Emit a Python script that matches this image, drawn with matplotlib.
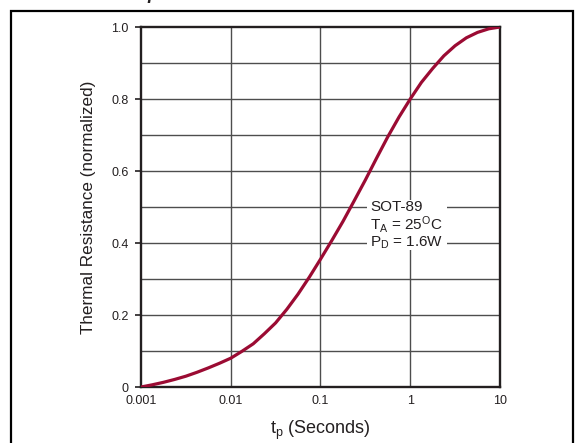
import numpy as np
import matplotlib
matplotlib.use("Agg")
import matplotlib.pyplot as plt
from matplotlib.patches import Rectangle

plt.rcParams["font.family"] = ["Liberation Sans", "DejaVu Sans"]

# Curve (eighth-decade steps): pulse time (s) vs normalized thermal resistance
pulse_time = [0.001, 0.00133, 0.00178, 0.00237, 0.00316, 0.00422, 0.00562, 0.0075,
              0.01, 0.0133, 0.0178, 0.0237, 0.0316, 0.0422, 0.0562, 0.075,
              0.1, 0.133, 0.178, 0.237, 0.316, 0.422, 0.562, 0.75,
              1.0, 1.33, 1.78, 2.37, 3.16, 4.22, 5.62, 7.5, 10.0]
thermal_res = [0.0, 0.006, 0.013, 0.021, 0.030, 0.041, 0.053, 0.066,
               0.080, 0.099, 0.120, 0.148, 0.178, 0.216, 0.258, 0.305,
               0.355, 0.406, 0.460, 0.517, 0.575, 0.636, 0.695, 0.750,
               0.800, 0.846, 0.885, 0.920, 0.948, 0.970, 0.985, 0.995, 1.0]

x_ticks = [0.001, 0.01, 0.1, 1, 10]
x_tick_labels = ["0.001", "0.01", "0.1", "1", "10"]
y_ticks = [0, 0.2, 0.4, 0.6, 0.8, 1.0]
y_tick_labels = ["0", "0.2", "0.4", "0.6", "0.8", "1.0"]

curve_color = "#9b0b33"
grid_color = "#4d4d4d"
dark = "#231f20"

fig = plt.figure(figsize=(5.78, 4.43), dpi=100)
ax = fig.add_axes([141 / 578, 56 / 443, 359 / 578, 360 / 443])

ax.set_xscale("log")
ax.set_xlim(0.001, 10)
ax.set_ylim(0, 1.0)

# grid: decades on x, every 0.1 on y
for xv in [0.01, 0.1, 1]:
    ax.axvline(xv, color=grid_color, lw=1.0, zorder=1)
for yv in np.arange(1, 10) / 10:
    ax.axhline(yv, color=grid_color, lw=1.0, zorder=1)

ax.plot(pulse_time, thermal_res, color=curve_color, lw=2.3, zorder=3,
        solid_capstyle="round", solid_joinstyle="round")

ax.set_xticks(x_ticks)
ax.set_xticklabels(x_tick_labels)
ax.xaxis.set_minor_locator(matplotlib.ticker.NullLocator())
ax.set_yticks(y_ticks)
ax.set_yticklabels(y_tick_labels)
ax.tick_params(axis="x", length=0, pad=6, labelsize=9, colors=dark)
ax.tick_params(axis="y", length=4, width=1.2, pad=5, labelsize=9, colors=dark)
for sp in ax.spines.values():
    sp.set_color(dark)
    sp.set_linewidth(1.7)

ax.set_xlabel(r"$\mathregular{t_p}$ (Seconds)", fontsize=13, color=dark, labelpad=8)
ax.set_ylabel("Thermal Resistance (normalized)", fontsize=12.3, color=dark, labelpad=11)

# annotation box
ax.add_patch(Rectangle((0.630, 0.38), 0.222, 0.14, transform=ax.transAxes,
                       facecolor="white", edgecolor="none", zorder=2))
ax.text(0.638, 0.52, "SOT-89\n" + r"$\mathregular{T_A}$ = 25$\mathregular{^O}$C" + "\n"
        + r"$\mathregular{P_D}$ = 1.6W", transform=ax.transAxes, va="top", ha="left",
        fontsize=11, color=dark, linespacing=1.0, zorder=4)

# outer frame and clipped heading
fig.add_artist(Rectangle((11 / 578, -0.05), 562 / 578, (432 / 443) + 0.05,
                         transform=fig.transFigure, fill=False, edgecolor="black", lw=1.6))
fig.text(40 / 578, 444 / 443, "Thermal Response", fontsize=13,
         fontweight="bold", fontstyle="italic", va="baseline", ha="left", color=dark)

fig.savefig("out.png", dpi=100)
